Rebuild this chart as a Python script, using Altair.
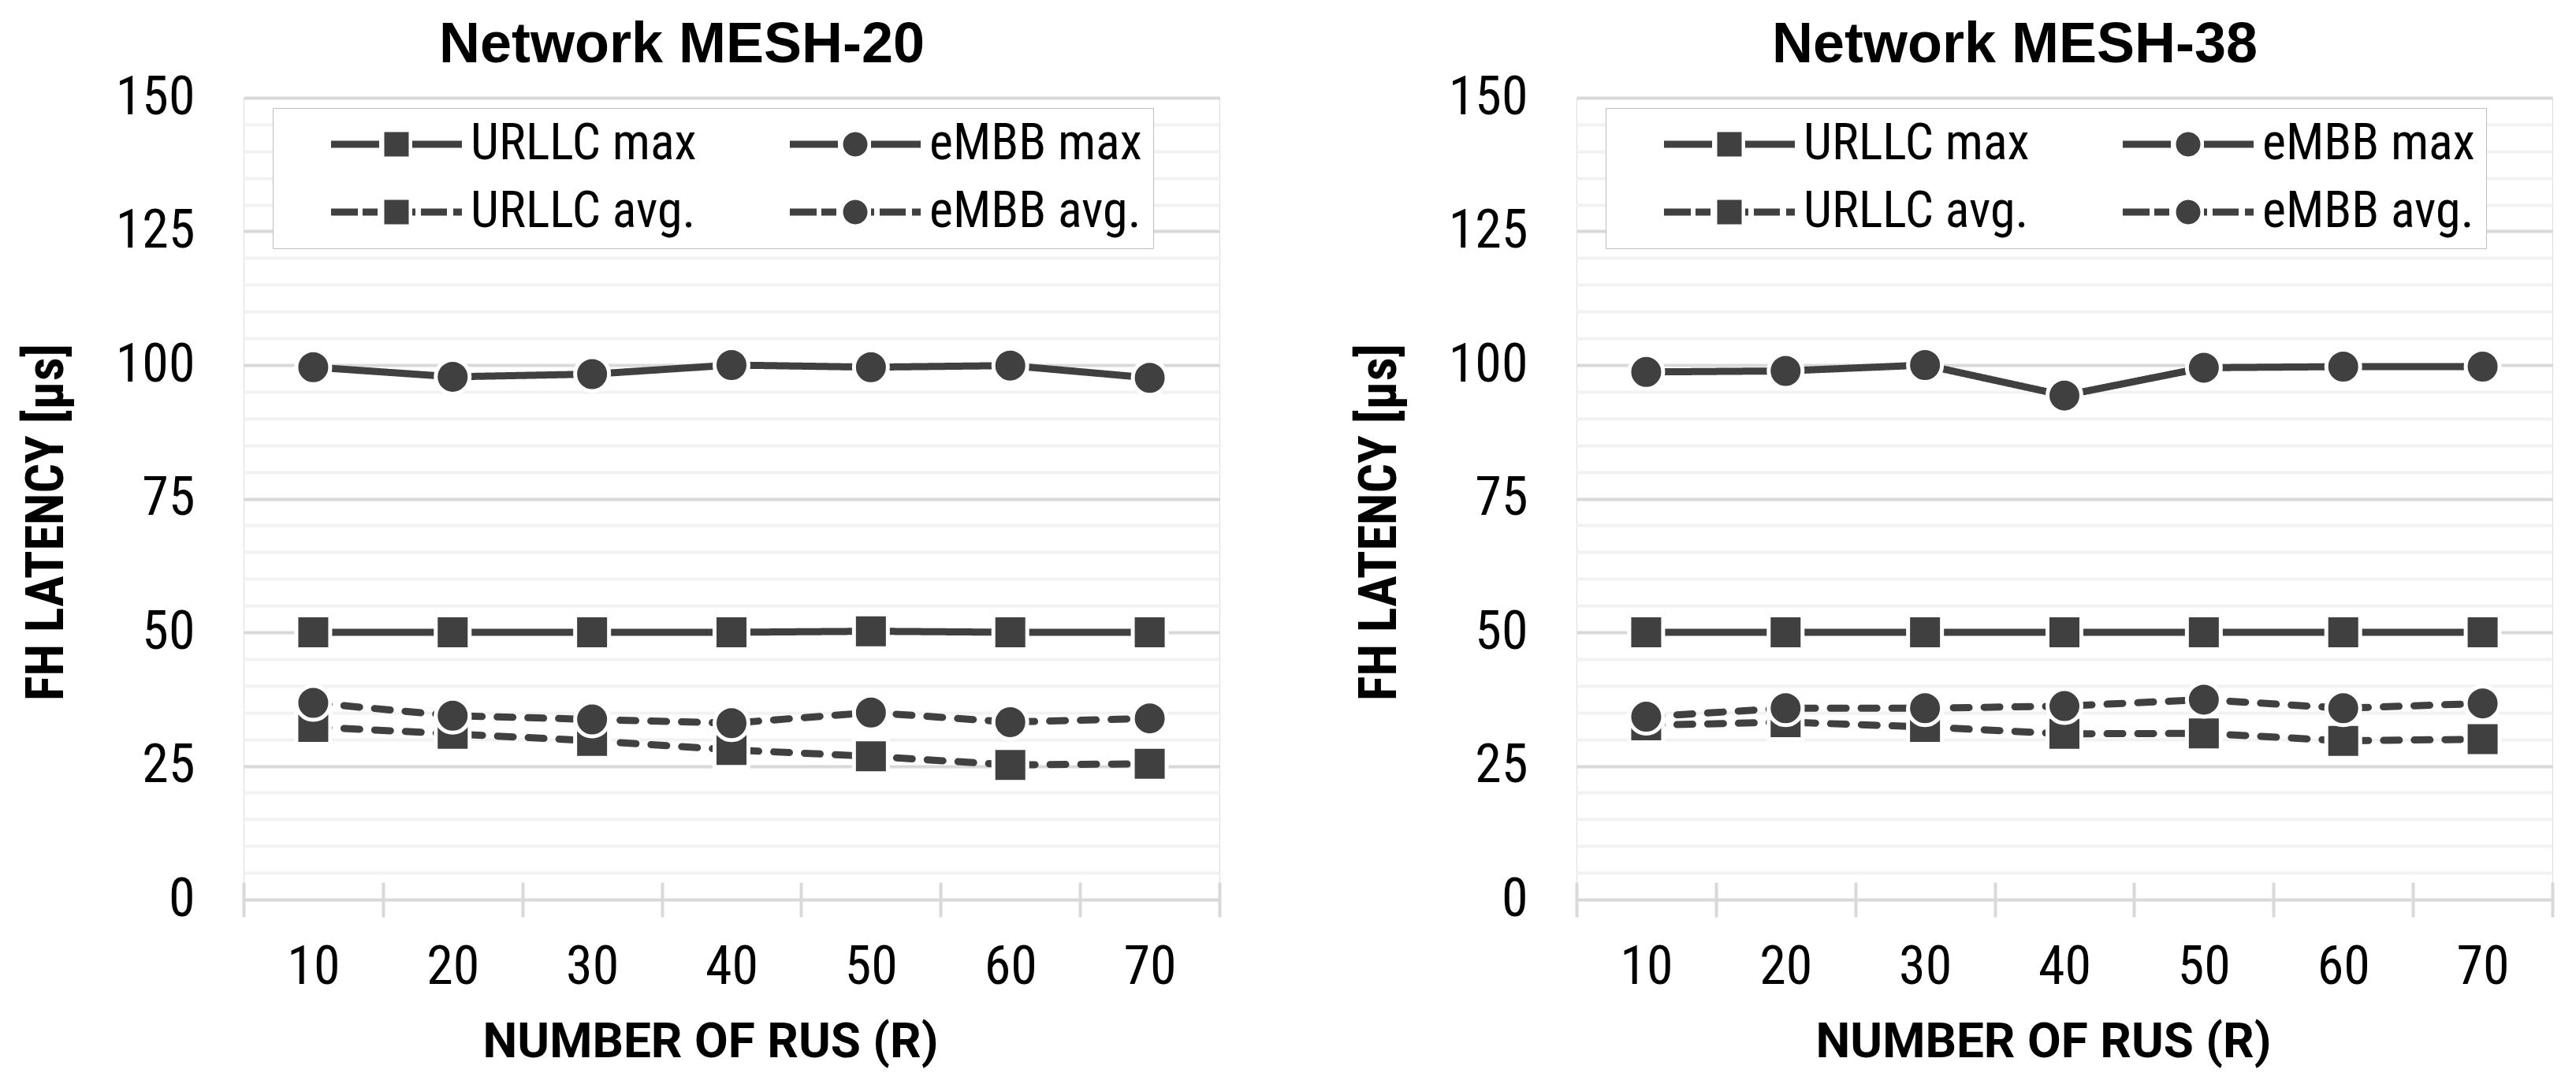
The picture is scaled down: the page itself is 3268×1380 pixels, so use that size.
import math
import altair as alt
import pandas as pd

# ---------------- data ----------------
ru = [10, 20, 30, 40, 50, 60, 70]
series_names = ["URLLC max", "URLLC avg.", "eMBB max", "eMBB avg."]

m20_urllc_max = [50.0, 50.0, 50.0, 50.0, 50.2, 50.0, 50.0]
m20_embb_max = [99.6, 97.8, 98.3, 100.0, 99.6, 99.9, 97.6]
m20_urllc_avg = [32.3, 31.0, 29.7, 28.0, 26.8, 25.2, 25.4]
m20_embb_avg = [36.8, 34.4, 33.7, 33.0, 35.0, 33.2, 33.9]

m38_urllc_max = [50.0, 50.0, 50.0, 50.0, 50.0, 50.0, 50.0]
m38_embb_max = [98.7, 98.9, 100.0, 94.3, 99.5, 99.7, 99.7]
m38_urllc_avg = [32.6, 33.2, 32.3, 31.0, 31.1, 29.7, 30.0]
m38_embb_avg = [34.2, 35.8, 35.8, 36.2, 37.4, 35.8, 36.7]

titles = ["Network MESH-20", "Network MESH-38"]
y_title = "FH LATENCY [µs]"
x_title = "NUMBER OF RUS (R)"

FONT = "Roboto Condensed, Liberation Sans Narrow, Roboto, sans-serif"
FONT_WIDE = "Roboto, Liberation Sans, sans-serif"
FONT_TITLE = "Liberation Sans, Roboto, sans-serif"
DARK = "#404040"

# ---------- legend symbol paths (1 unit = 30 px, symbol box 60 px) ----------
U = 30.0
HH = 4.5 / U


def rect(x0, x1, h=HH):
    return f"M{x0 / U:.3f},{-h:.3f}H{x1 / U:.3f}V{h:.3f}H{x0 / U:.3f}Z"


def square(r=15.5):
    r = r / U
    return f"M{-r:.3f},{-r:.3f}H{r:.3f}V{r:.3f}H{-r:.3f}Z"


def circle(r=15.5, n=28):
    r = r / U
    pts = [(r * math.cos(2 * math.pi * i / n), r * math.sin(2 * math.pi * i / n)) for i in range(n)]
    return "M" + "L".join(f"{x:.3f},{y:.3f}" for x, y in pts) + "Z"


solid_line = rect(-83, -22) + rect(20, 83)
dash_line = rect(-83, -49) + rect(-43, -24) + rect(20, 24) + rect(31, 64) + rect(72, 83)
legend_paths = [
    solid_line + square(),
    dash_line + square(),
    solid_line + circle(),
    dash_line + circle(),
]

W = 1238
HGT = 1017


def make_panel(title, umax, emax, uavg, eavg):
    rows = []
    for name, vals, shape, stat in [
        ("URLLC max", umax, "square", "max"),
        ("eMBB max", emax, "circle", "max"),
        ("URLLC avg.", uavg, "square", "avg"),
        ("eMBB avg.", eavg, "circle", "avg"),
    ]:
        for r, v in zip(ru, vals):
            rows.append({"ru": r, "val": v, "series": name, "shape": shape, "stat": stat})
    df = pd.DataFrame(rows)

    x = alt.X(
        "ru:O",
        scale=alt.Scale(paddingInner=0, paddingOuter=0),
        axis=alt.Axis(
            title=x_title,
            labelAngle=0,
            domain=False,
            ticks=True,
            tickBand="extent",
            tickSize=44,
            tickColor="#d9d9d9",
            tickWidth=4,
            offset=-22,
            labelPadding=30,
            labelFontSize=68,
            labelFont=FONT,
            labelColor="#000000",
            titleFont=FONT_WIDE,
            titleFontSize=62,
            titleFontWeight="bold",
            titleColor="#000000",
            titlePadding=30,
            titleX=W / 2 - 27,
            grid=False,
        ),
    )
    y = alt.Y(
        "val:Q",
        scale=alt.Scale(domain=[0, 150], nice=False, zero=True),
        axis=alt.Axis(
            title=y_title,
            values=list(range(0, 151, 5)),
            labelExpr="datum.value % 25 === 0 ? datum.label : ''",
            grid=True,
            gridColor=alt.condition("datum.value % 25 === 0", alt.value("#d9d9d9"), alt.value("#f2f2f2")),
            gridWidth=4,
            ticks=False,
            domain=False,
            labelPadding=62,
            labelFontSize=68,
            labelFont=FONT,
            labelColor="#000000",
            titleFont=FONT,
            titleFontSize=66,
            titleFontWeight="bold",
            titleColor="#000000",
            titlePadding=53,
            titleY=538,
        ),
    )

    lines = alt.Chart(df).mark_line(
        color=DARK, strokeWidth=9, strokeCap="round", strokeJoin="round"
    ).encode(
        x=x,
        y=y,
        detail="series:N",
        strokeDash=alt.StrokeDash(
            "stat:N",
            scale=alt.Scale(domain=["max", "avg"], range=[[1, 0], [20, 19]]),
            legend=None,
        ),
    )

    squares = alt.Chart(df).transform_filter("datum.shape === 'square'").mark_point(
        shape="square", filled=True, fill=DARK, stroke="white", strokeWidth=5, size=1849, opacity=1
    ).encode(x=x, y=y)

    circles = alt.Chart(df).transform_filter("datum.shape === 'circle'").mark_point(
        shape="circle", filled=True, fill=DARK, stroke="white", strokeWidth=5, size=1849, opacity=1
    ).encode(x=x, y=y)

    legend_layer = alt.Chart(df).mark_point(filled=True, color=DARK, opacity=0, size=1).encode(
        x=x,
        y=y,
        shape=alt.Shape(
            "series:N",
            scale=alt.Scale(domain=series_names, range=legend_paths),
            legend=alt.Legend(
                title=None,
                orient="none",
                legendX=37,
                legendY=13,
                columns=2,
                columnPadding=58,
                rowPadding=22,
                padding=14,
                symbolSize=3600,
                symbolOffset=111,
                symbolFillColor=DARK,
                symbolStrokeColor=DARK,
                symbolStrokeWidth=0,
                symbolOpacity=1,
                labelFont=FONT,
                labelFontSize=64,
                labelColor="#000000",
                labelOffset=62,
                labelLimit=0,
                labelExpr="indexof(datum.label, 'eMBB') === 0 ? datum.label + '\u00a0\u00a0\u00a0\u00a0\u00a0' : datum.label",
                strokeColor="#bfbfbf",
                fillColor="#ffffff",
            ),
        ),
    )

    return alt.layer(lines, squares, circles, legend_layer).properties(
        width=W,
        height=HGT,
        title=alt.TitleParams(
            title, font=FONT_TITLE, fontSize=72, fontWeight="bold", color="#000000",
            offset=-4, dx=-63,
        ),
    )


left = make_panel(titles[0], m20_urllc_max, m20_embb_max, m20_urllc_avg, m20_embb_avg)
right = make_panel(titles[1], m38_urllc_max, m38_embb_max, m38_urllc_avg, m38_embb_avg)

chart = (
    alt.hconcat(left, right, spacing=166)
    .resolve_scale(shape="independent")
    .resolve_legend(shape="independent")
    .properties(padding={"left": 17, "top": 12, "right": 5, "bottom": 5})
    .configure_view(stroke="#bfbfbf", strokeWidth=4.5)
    .configure_legend(strokeWidth=4.5)
    .configure(background="white")
)

chart.save("out.html", embed_options={"renderer": "svg", "actions": False})
